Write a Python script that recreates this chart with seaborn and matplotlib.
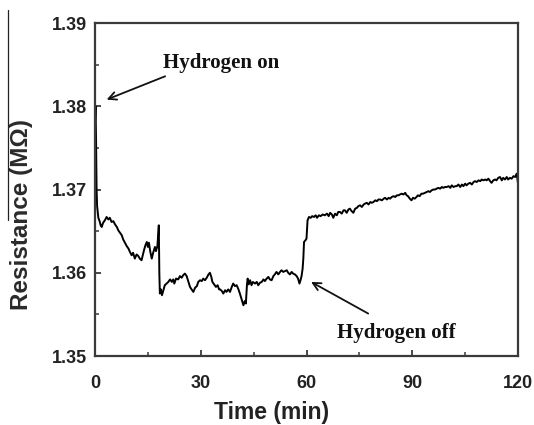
import numpy as np
import pandas as pd
import matplotlib
matplotlib.use("Agg")
import matplotlib.pyplot as plt
from matplotlib.lines import Line2D
import seaborn as sns

time_min = [0, 0.15, 0.3, 0.45, 0.6, 0.8, 0.95, 1.3, 1.6, 1.9, 2.3, 2.8, 3.3, 3.8, 4.2, 4.7, 5.2, 5.7,
            6.2, 6.6, 7.1, 7.6, 8.0, 8.5, 9.0, 9.5, 9.9, 10.4, 10.8, 11.3, 11.8, 12.3, 12.7, 13.2, 13.6,
            13.9, 14.3, 14.7, 15.0, 15.3, 15.7, 16.1, 16.5, 17.0, 17.3, 17.7, 18.0, 18.1, 18.25, 18.4,
            18.7, 19.0, 19.4, 19.8, 20.3, 20.8, 21.3, 21.8, 22.2, 22.5, 23.0, 23.6, 24.1, 24.6, 25.0,
            25.5, 26.0, 26.5, 26.95, 27.4, 27.9, 28.4, 28.9, 29.3, 29.8, 30.3, 30.7, 31.2, 31.7, 32.2,
            32.6, 33.0, 33.3, 33.8, 34.3, 34.8, 35.2, 35.5, 36.0, 36.4, 36.9, 37.3, 37.8, 38.3, 38.8,
            39.2, 39.7, 40.2, 40.7, 41.1, 41.6, 42.1, 42.5, 42.8, 43.1, 43.3, 43.6, 44.0, 44.4, 44.8,
            45.4, 45.9, 46.3, 46.8, 47.3, 47.8, 48.2, 48.7, 49.2, 49.6, 50.1, 50.6, 51.0, 51.5, 52.0,
            52.5, 52.9, 53.4, 53.9, 54.4, 54.8, 55.3, 55.8, 56.2, 56.7, 57.2, 57.6, 58.0, 58.3, 58.6,
            58.9, 59.1, 59.3, 59.7, 60.0, 60.2, 60.3, 60.7, 61.2, 61.6, 62.1, 62.6, 63.0, 63.5, 64.0,
            64.6, 65.2, 65.8, 66.3, 66.7, 67.2, 67.6, 68.1, 68.6, 69.0, 69.5, 70.0, 70.5, 70.9, 71.4,
            71.9, 72.3, 72.8, 73.3, 73.8, 74.3, 74.7, 75.2, 75.7, 76.2, 76.6, 77.1, 77.6, 78.1, 78.5,
            79.0, 79.5, 80.0, 80.4, 80.9, 81.4, 81.9, 82.3, 82.8, 83.3, 83.7, 84.2, 84.7, 85.2, 85.6,
            86.1, 86.5, 87.0, 87.5, 88.0, 88.4, 88.8, 89.3, 89.8, 90.2, 90.7, 91.2, 91.6, 92.1, 92.6,
            93.1, 93.6, 94.1, 94.6, 95.0, 95.5, 96.0, 96.5, 96.9, 97.4, 97.9, 98.4, 98.8, 99.3, 99.8,
            100.3, 100.8, 101.2, 101.7, 102.2, 102.6, 103.1, 103.6, 104.1, 104.5, 105.0, 105.4, 105.9,
            106.4, 106.9, 107.4, 107.8, 108.3, 108.8, 109.3, 109.7, 110.2, 110.7, 111.1, 111.6, 112.1,
            112.5, 113.0, 113.5, 113.9, 114.4, 114.9, 115.4, 115.8, 116.3, 116.8, 117.2, 117.7, 118.2,
            118.7, 119.2, 119.6, 119.8, 120.0]

resistance = [1.3780, 1.3800, 1.3760, 1.3700, 1.3680, 1.3672, 1.3666, 1.3662, 1.3657, 1.3655, 1.3660,
              1.3663, 1.3667, 1.3664, 1.3666, 1.3661, 1.3662, 1.3658, 1.3655, 1.3651, 1.3648, 1.3645,
              1.3640, 1.3636, 1.3632, 1.3629, 1.3625, 1.3621, 1.3624, 1.3617, 1.3622, 1.3620, 1.3617,
              1.3615, 1.3622, 1.3627, 1.3633, 1.3637, 1.3631, 1.3636, 1.3625, 1.3617, 1.3624, 1.3631,
              1.3626, 1.3632, 1.3651, 1.3657, 1.3600, 1.3575, 1.3580, 1.3573, 1.3579, 1.3585, 1.3587,
              1.3589, 1.3592, 1.3589, 1.3592, 1.3587, 1.3593, 1.3592, 1.3596, 1.3594, 1.3597, 1.3599,
              1.3596, 1.3589, 1.3583, 1.3580, 1.3577, 1.3582, 1.3584, 1.3589, 1.3591, 1.3590, 1.3593,
              1.3591, 1.3594, 1.3598, 1.3600, 1.3595, 1.3589, 1.3586, 1.3583, 1.3585, 1.3580, 1.3580,
              1.3578, 1.3575, 1.3579, 1.3577, 1.3580, 1.3577, 1.3583, 1.3587, 1.3584, 1.3585, 1.3580,
              1.3575, 1.3568, 1.3561, 1.3566, 1.3563, 1.3585, 1.3593, 1.3586, 1.3591, 1.3585, 1.3589,
              1.3587, 1.3589, 1.3585, 1.3588, 1.3589, 1.3592, 1.3590, 1.3593, 1.3595, 1.3592, 1.3591,
              1.3596, 1.3598, 1.3601, 1.3598, 1.3601, 1.3603, 1.3601, 1.3602, 1.3603, 1.3600, 1.3598,
              1.3601, 1.3599, 1.3598, 1.3596, 1.3593, 1.3587, 1.3591, 1.3596, 1.3605, 1.3617, 1.3637,
              1.3639, 1.3641, 1.3655, 1.3663, 1.3667, 1.3666, 1.3668, 1.3667, 1.3669, 1.3666, 1.3669,
              1.3668, 1.3670, 1.3669, 1.3671, 1.3668, 1.3672, 1.3670, 1.3666, 1.3671, 1.3669, 1.3673,
              1.3673, 1.3671, 1.3675, 1.3675, 1.3672, 1.3676, 1.3677, 1.3674, 1.3672, 1.3677, 1.3678,
              1.3680, 1.3681, 1.3679, 1.3682, 1.3683, 1.3684, 1.3682, 1.3685, 1.3684, 1.3685, 1.3687,
              1.3686, 1.3688, 1.3688, 1.3687, 1.3689, 1.3690, 1.3688, 1.3690, 1.3689, 1.3691, 1.3692,
              1.3691, 1.3693, 1.3693, 1.3694, 1.3695, 1.3694, 1.3696, 1.3693, 1.3692, 1.3689, 1.3687,
              1.3690, 1.3689, 1.3691, 1.3693, 1.3692, 1.3695, 1.3695, 1.3696, 1.3697, 1.3698, 1.3697,
              1.3699, 1.3700, 1.3700, 1.3701, 1.3702, 1.3701, 1.3703, 1.3702, 1.3703, 1.3703, 1.3704,
              1.3702, 1.3705, 1.3703, 1.3704, 1.3704, 1.3706, 1.3703, 1.3706, 1.3704, 1.3707, 1.3705,
              1.3707, 1.3708, 1.3706, 1.3709, 1.3710, 1.3709, 1.3711, 1.3710, 1.3712, 1.3711, 1.3712,
              1.3711, 1.3713, 1.3710, 1.3708, 1.3711, 1.3712, 1.3711, 1.3714, 1.3715, 1.3711, 1.3714,
              1.3712, 1.3715, 1.3712, 1.3714, 1.3713, 1.3716, 1.3715, 1.3719, 1.3714, 1.3707]

x_ticks = [0, 30, 60, 90, 120]
y_ticks = [1.35, 1.36, 1.37, 1.38, 1.39]
y_tick_labels = ["1.35", "1.36", "1.37", "1.38", "1.39"]

df = pd.DataFrame({"Time (min)": time_min, "Resistance (MΩ)": resistance})

sns.set_style("ticks")
plt.rcParams["font.family"] = ["Liberation Sans", "DejaVu Sans"]

fig = plt.figure(figsize=(5.34, 4.25), dpi=100)
ax = fig.add_axes([95 / 534, (425 - 356) / 425, (518 - 95) / 534, (356 - 23) / 425])

sns.lineplot(data=df, x="Time (min)", y="Resistance (MΩ)", ax=ax, estimator=None,
             sort=False, color="black", linewidth=1.4)

ax.set_xlim(0, 120)
ax.set_ylim(1.35, 1.39)
ax.set_xticks(x_ticks)
ax.set_xticklabels([str(v) for v in x_ticks])
ax.set_yticks(y_ticks)
ax.set_yticklabels(y_tick_labels)
ax.set_xticks([15, 45, 75, 105], minor=True)
ax.set_yticks([1.355, 1.365, 1.375, 1.385], minor=True)

spine_color = "#3a3a3a"
for s in ax.spines.values():
    s.set_visible(True)
    s.set_linewidth(1.6)
    s.set_color(spine_color)

ax.tick_params(axis="both", which="major", direction="in", length=4, width=1.3,
               color=spine_color, top=False, right=False)
ax.tick_params(axis="both", which="minor", direction="in", length=3, width=1.1,
               color=spine_color, top=False, right=False)
ax.tick_params(axis="y", which="major", pad=6)
ax.tick_params(axis="x", which="major", pad=14)
for lab in ax.get_yticklabels():
    lab.set_fontsize(13)
    lab.set_fontweight("bold")
    lab.set_color("#222222")
for lab in ax.get_xticklabels():
    lab.set_fontsize(13)
    lab.set_fontweight("bold")
    lab.set_color("#222222")

ax.set_xlabel("Time (min)", fontsize=16.5, fontweight="bold", color="#222222")
ax.set_ylabel("Resistance (MΩ)", fontsize=17.5, fontweight="bold", color="#2a2a2a")
ax.xaxis.label.set_va("center")
ax.xaxis.set_label_coords((272 - 95) / 423, (356 - 413) / 333)
ax.yaxis.label.set_va("center")
ax.yaxis.set_label_coords((22 - 95) / 423, (356 - 214) / 333)

serif = ["Liberation Serif", "DejaVu Serif"]
ax.text(19.3, 1.3852, "Hydrogen on", family=serif, fontsize=15, fontweight="bold",
        ha="left", va="center", color="#111111")
ax.annotate("", xy=(3.3, 1.3808), xytext=(19.9, 1.3836),
            arrowprops=dict(arrowstyle="->", color="#111111", lw=1.3,
                            mutation_scale=14, shrinkA=0, shrinkB=0))
ax.text(68.6, 1.35273, "Hydrogen off", family=serif, fontsize=15, fontweight="bold",
        ha="left", va="center", color="#111111")
ax.annotate("", xy=(61.3, 1.3589), xytext=(77.5, 1.3551),
            arrowprops=dict(arrowstyle="->", color="#111111", lw=1.3,
                            mutation_scale=14, shrinkA=0, shrinkB=0))

fig.add_artist(Line2D([7.5 / 534, 7.5 / 534], [1 - 10 / 425, 1 - 220 / 425],
                      transform=fig.transFigure, color="#222222", linewidth=0.9))

fig.savefig("out.png", dpi=100)
